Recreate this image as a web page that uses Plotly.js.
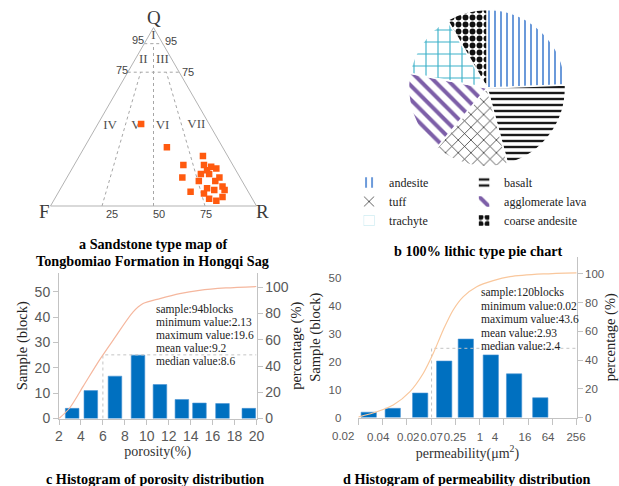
<!DOCTYPE html>
<html><head><meta charset="utf-8">
<script src="https://cdn.plot.ly/plotly-3.0.1.min.js"></script>
<style>html,body{margin:0;padding:0;background:#fff}#chart{width:619px;height:486px}</style>
</head><body><div id="chart"></div>
<script>
// ---------- data: (a) ternary sandstone classification ----------
const sampleQ = [46,33,23,16,8,28,23,22,21,20,18,18,16,14,14,11,10,9,9,7,5,4,3];
const sampleF = [33,27,24,28,28,12,14,11,9,14,18,14,10,21,13,11,19,16,11,22,14,21,18];
const sampleR = [21,40,53,56,64,60,63,67,70,66,64,68,74,65,73,78,71,75,80,71,81,75,79];
const divQLevels = [91, 75];
const divRShares = [25, 50, 75];
const divTopQ = [75, 91, 75];
const regionNames = ['I','II','III','IV','V','VI','VII'];
const regionQ = [95.4, 82.1, 82.1, 45.2, 45.2, 45.2, 45.8];
const regionF = [2.3, 13.9, 4.6, 48.5, 35.9, 23.0, 6.3];
const regionR = [2.3, 4.0, 13.3, 6.3, 18.9, 31.8, 47.9];

// ---------- data: (b) lithic pie ----------
const lithicTypes = ['andesite','basalt','tuff','agglomerate lava','trachyte','coarse andesite'];
const lithicShares = [24.4, 21.4, 15.3, 16.9, 13.6, 8.4];

// ---------- data: (c) porosity histogram ----------
const porosityBin = [3.2, 4.9, 7.1, 9.2, 11.2, 13.2, 14.8, 16.9, 19.3];
const porosityCount = [4, 11, 16.7, 25, 13.4, 7.5, 6.1, 5.9, 4];
const porosityCumX = [2, 2.97, 4.2, 5.7, 6.94, 8.76, 9.66, 11.2, 13.0, 14.8, 17.2, 20];
const porosityCumY = [0, 8, 24.5, 44.7, 59.8, 81.3, 87.6, 91.4, 95.2, 97.7, 99.5, 100.6];
const porosityMedX = [6, 6, 20];
const porosityMedY = [0, 48.5, 48.5];
const porosityStats = ['sample:94blocks','minimum value:2.13','maximum value:19.6','mean value:9.2','median value:8.6'];

// ---------- data: (d) permeability histogram ----------
const permBin = [0.43, 1.42, 2.55, 3.54, 4.43, 5.46, 6.42, 7.50];
const permCount = [1.9, 3.3, 8.8, 20.3, 28.2, 22.5, 15.7, 7.1];
const permCumX = [0, 0.76, 1.44, 2.13, 2.68, 3.09, 3.50, 3.91, 4.33, 4.88, 5.56, 6.25, 7.62, 9];
const permCumY = [0.3, 4.0, 8.7, 18.0, 30.8, 44.7, 61.0, 74.9, 84.2, 91.1, 95.3, 98.1, 100, 100.8];
const permMedX = [3.02, 3.02, 9];
const permMedY = [0, 48.2, 48.2];
const permTickPos = [0.82, 2.06, 3.02, 3.98, 5.01, 5.63, 6.87, 7.82, 8.97];
const permTickText = ['0.04','0.02','0.07','0.25','1','4','16','64','256'];
const permFirstLabel = '0.02';
const permBoundaries = [0,1,2,3,4,5,6,7,8,9];
const permStats = ['sample:120blocks','minimum value:0.02','maximum value:43.6','mean value:2.93','median value:2.4'];

// ---------- helpers (pixel -> paper; plot area is 589 px wide, right margin 30) ----------
const W = 619, H = 486, MR = 30, GW = W - MR;
const px = x => x / GW, py = y => 1 - y / H;
const SERIF = 'Liberation Serif, Times New Roman, serif';
const SANS = 'Liberation Sans, Arial, sans-serif';

const bA = [], bB = [], bC = [];
divQLevels.forEach(q => { bA.push(q, q, null); bB.push(100-q, 0, null); bC.push(0, 100-q, null); });
divRShares.forEach((r, i) => {
  const t = divTopQ[i];
  bA.push(0, t, null);
  bB.push(100-r, (100-t)*(100-r)/100, null);
  bC.push(r, (100-t)*r/100, null);
});

const traces = [
  {type:'scatterternary', mode:'lines', a:bA, b:bB, c:bC, connectgaps:false,
   line:{color:'#a6a6a6', width:1, dash:'3px,3px'}, hoverinfo:'skip', showlegend:false},
  {type:'scatterternary', mode:'text', a:regionQ, b:regionF, c:regionR, text:regionNames,
   textfont:{family:SERIF, size:13, color:'#505050'}, hoverinfo:'skip', showlegend:false},
  {type:'scatterternary', mode:'markers', a:sampleQ, b:sampleF, c:sampleR, name:'samples',
   marker:{symbol:'square', size:6.5, color:'#ff5a0f'}, showlegend:false},
  {type:'pie', labels:lithicTypes, values:lithicShares, sort:false, direction:'clockwise', rotation:0,
   textinfo:'none', hoverinfo:'label+percent',
   domain:{x:[px(408.5), px(565.5)], y:[py(166.5), py(9.5)]},
   marker:{colors:['#5b8fd6','#1a1a1a','#1a1a1a','#7d5fa8','#3bb1c9','#111111'],
     line:{color:'#ffffff', width:1.5},
     pattern:{shape:['|','-','x','\\','+','.'], fillmode:'replace', bgcolor:'#ffffff',
       size:[6,6,9,10,12,7], solidity:[0.3,0.4,0.15,0.4,0.18,0.55]}}},
  {type:'bar', x:porosityBin, y:porosityCount, width:1.24, xaxis:'x', yaxis:'y',
   marker:{color:'#0070c0', line:{color:'#4a93d3', width:0.6}}, showlegend:false},
  {type:'scatter', mode:'lines', x:porosityMedX, y:porosityMedY, xaxis:'x', yaxis:'y2',
   line:{color:'#c4c4c4', width:1, dash:'dot'}, showlegend:false, hoverinfo:'skip'},
  {type:'scatter', mode:'lines', x:porosityCumX, y:porosityCumY, xaxis:'x', yaxis:'y2',
   line:{color:'#f5b79e', width:1.2, shape:'spline', smoothing:0.8}, showlegend:false},
  {type:'bar', x:permBin, y:permCount, width:0.63, xaxis:'x2', yaxis:'y3',
   marker:{color:'#0070c0', line:{color:'#4a93d3', width:0.6}}, showlegend:false},
  {type:'scatter', mode:'lines', x:permMedX, y:permMedY, xaxis:'x2', yaxis:'y4',
   line:{color:'#c4c4c4', width:1, dash:'dot'}, showlegend:false, hoverinfo:'skip'},
  {type:'scatter', mode:'lines', x:permCumX, y:permCumY, xaxis:'x2', yaxis:'y4',
   line:{color:'#f9c79c', width:1.2, shape:'spline', smoothing:0.8}, showlegend:false}
];

const ternAx = {showticklabels:false, ticks:'', showgrid:false, showline:true,
  linecolor:'#b3b3b3', linewidth:1, title:{text:''}};
const tickFontC = {family:SANS, size:14, color:'#595959'};
const tickFontD = {family:SANS, size:11.5, color:'#595959'};
const axCol = '#c3c3c3';

const ann = [];
function addText(text, x, y, opts) {
  ann.push(Object.assign({text, x:px(x), y:py(y), xref:'paper', yref:'paper', showarrow:false,
    xanchor:'center', yanchor:'middle'}, opts));
}
addText('Q', 153.5, 17, {font:{family:SERIF, size:19, color:'#3a3a3a'}});
addText('F', 44, 211, {font:{family:SERIF, size:19, color:'#3a3a3a'}});
addText('R', 262, 211, {font:{family:SERIF, size:19, color:'#3a3a3a'}});
const smallF = {family:SANS, size:11, color:'#444'};
addText('95', 138, 40, {font:smallF});
addText('95', 170.5, 41.5, {font:smallF});
addText('75', 121.5, 70, {font:smallF});
addText('75', 188, 72.5, {font:smallF});
addText('25', 112, 214.5, {font:smallF});
addText('50', 158.7, 214, {font:smallF});
addText('75', 206, 214.5, {font:smallF});
const capF = {family:SERIF, size:14.2, color:'#000'};
addText('<b>a Sandstone type map of</b>', 152.5, 244, {font:capF});
addText('<b>Tongbomiao Formation in Hongqi Sag</b>', 152.5, 260.5, {font:capF});
addText('<b>b 100% lithic type pie chart</b>', 478, 251, {font:capF});
addText('<b>c Histogram of porosity distribution</b>', 155, 478.5, {font:capF});
addText('<b>d Histogram of permeability distribution</b>', 466.5, 478.5, {font:capF});
const statF = {family:SERIF, size:11.5, color:'#222'};
porosityStats.forEach((s, i) => addText(s, 154.3, 309 + i*13, {font:statF, xanchor:'left'}));
permStats.forEach((s, i) => addText(s, 479.3, 292 + i*13.5, {font:statF, xanchor:'left'}));
addText(permFirstLabel, 343.3, 436, {font:tickFontD});

const layout = {
  width:W, height:H, margin:{l:0, r:MR, t:0, b:0, autoexpand:false},
  paper_bgcolor:'#fff', plot_bgcolor:'rgba(0,0,0,0)',
  showlegend:true,
  legend:{orientation:'h', x:1.0001, xanchor:'right', y:py(168), yanchor:'top',
    entrywidth:80, itemwidth:30, indentation:-10, font:{family:SERIF, size:12, color:'#222'},
    bgcolor:'rgba(0,0,0,0)', traceorder:'normal'},
  ternary:{domain:{x:[px(50.5), px(256.5)], y:[py(206), py(27.6)]}, sum:100,
    bgcolor:'rgba(0,0,0,0)', aaxis:ternAx, baxis:ternAx, caxis:ternAx},
  xaxis:{domain:[px(59), px(256.5)], range:[2,20], tickmode:'linear', tick0:2, dtick:2,
    ticks:'outside', ticklen:5, tickcolor:axCol, showline:true, linecolor:axCol, showgrid:false,
    zeroline:false, tickfont:tickFontC, automargin:false, anchor:'y', tickangle:0,
    title:{text:'porosity(%)', font:{family:SERIF, size:14, color:'#333'}, standoff:2}},
  yaxis:{domain:[py(418.5), py(273)], range:[0,57.4], tickmode:'linear', tick0:0, dtick:10,
    ticks:'outside', ticklen:5, tickcolor:axCol, showline:true, linecolor:axCol, showgrid:false,
    zeroline:false, tickfont:tickFontC, automargin:false, anchor:'x',
    title:{text:'Sample (block)', font:{family:SERIF, size:14.5, color:'#222'}, standoff:3}},
  yaxis2:{overlaying:'y', side:'right', anchor:'x', range:[0,110.9], tickmode:'linear', tick0:0, dtick:20,
    ticks:'outside', ticklen:5, tickcolor:axCol, showline:true, linecolor:axCol, showgrid:false,
    zeroline:false, tickfont:tickFontC, automargin:false,
    title:{text:'percentage (%)', font:{family:SERIF, size:14.5, color:'#222'}, standoff:2}},
  xaxis2:{domain:[px(358.3), px(576.7)], range:[0,9], anchor:'y3', tickmode:'array',
    tickvals:permTickPos, ticktext:permTickText, ticks:'', ticklabelstandoff:9, tickangle:0,
    minor:{tickmode:'array', tickvals:permBoundaries, ticks:'outside', ticklen:6, tickcolor:axCol, showgrid:false},
    showline:true, linecolor:axCol, showgrid:false, zeroline:false,
    tickfont:tickFontD, automargin:false,
    title:{text:'permeability(μm<sup>2</sup>)', font:{family:SERIF, size:14, color:'#333'}, standoff:3}},
  yaxis3:{domain:[py(417.5), py(257)], range:[0,57.7], anchor:'x2', tickmode:'linear', tick0:0, dtick:10,
    ticks:'', ticklabelstandoff:16, showline:false, showgrid:false, zeroline:false,
    tickfont:tickFontD, automargin:false,
    title:{text:'Sample (block)', font:{family:SERIF, size:14.5, color:'#222'}, standoff:4}},
  yaxis4:{overlaying:'y3', side:'right', anchor:'x2', range:[0,111.8], tickmode:'linear', tick0:0, dtick:20,
    ticks:'outside', ticklen:5, tickcolor:axCol, showline:true, linecolor:axCol, showgrid:false,
    zeroline:false, tickfont:tickFontD, automargin:false,
    title:{text:'percentage (%)', font:{family:SERIF, size:14.5, color:'#222'}, standoff:5}},
  annotations:ann
};

Plotly.newPlot('chart', traces, layout, {displayModeBar:false, staticPlot:true});
</script></body></html>
